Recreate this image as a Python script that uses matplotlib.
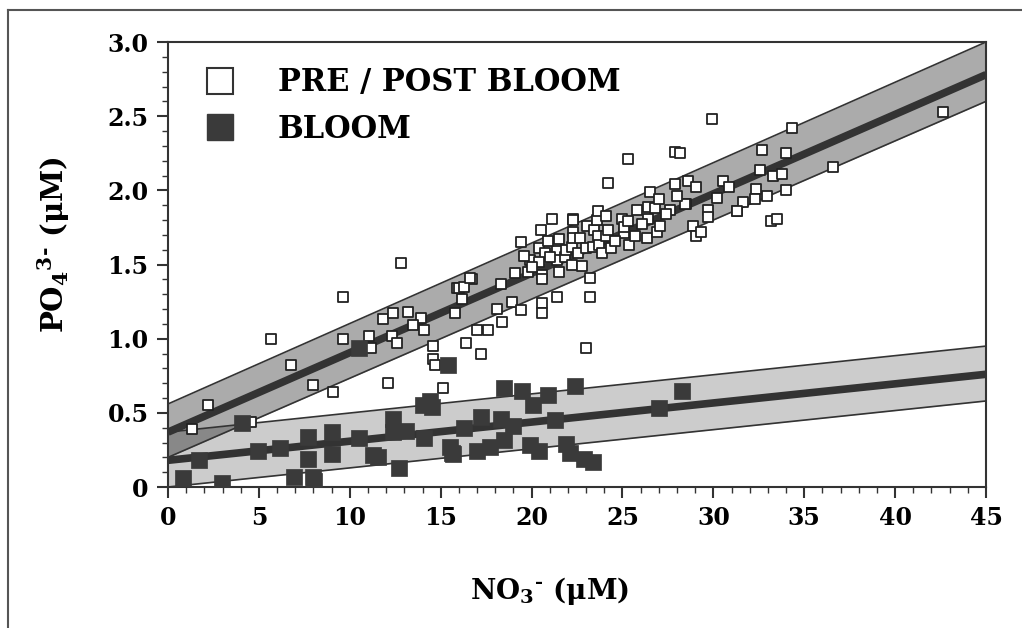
import matplotlib
matplotlib.use("Agg")
import matplotlib.pyplot as plt
from matplotlib.lines import Line2D

# points PRE / POST BLOOM (carres vides)
pre_x = [12.8, 9.6, 5.65, 6.75, 8.0, 9.06, 2.2, 1.34, 4.55, 9.65, 11.07, 11.15, 11.85,
         12.4, 13.2, 13.9, 13.5, 14.1, 12.3, 12.6, 12.1, 14.6, 14.6, 14.7, 15.1, 15.8,
         15.9, 29.9, 25.3, 27.9, 24.2, 21.1, 22.3, 20.5, 19.4, 16.7, 16.0, 16.2, 18.3,
         19.1, 19.8, 18.1, 18.9, 19.4, 18.4, 17.0, 17.6, 16.4, 17.2, 20.6, 20.6, 21.4,
         23.2, 23.2, 23.0,
         19.91, 20.39, 20.76, 20.42, 20.55, 20.59, 21.38, 21.49, 21.42, 21.49, 21.84,
         21.89, 22.2, 22.22, 22.26, 22.26, 22.3, 22.57, 22.66, 22.99, 23.06, 23.39,
         23.43, 23.58, 23.63, 23.67, 23.69, 23.85, 24.07, 24.09, 24.22, 24.35, 24.95,
         25.08, 25.1, 25.32, 25.36, 25.78, 26.37, 26.42, 26.51, 26.42, 26.79, 26.88,
         27.01, 27.06, 27.61, 27.89, 28.48, 28.62, 29.04, 28.9, 29.04, 29.3, 29.69,
         29.72, 30.55, 30.87, 31.28,
         34.3, 42.65, 36.6, 32.66, 34.0, 32.56, 33.26, 33.76, 32.34, 34.0, 32.97, 32.29,
         31.65, 31.32, 33.15, 33.52, 28.16, 28.44,
         16.3, 16.6, 20.0, 20.9, 19.6, 21.0, 22.8, 24.6, 25.7, 26.1, 27.4, 28.0, 30.2]
pre_y = [1.51, 1.28, 1.00, 0.82, 0.69, 0.64, 0.55, 0.39, 0.44, 1.00, 1.02, 0.94, 1.13,
         1.17, 1.18, 1.14, 1.09, 1.06, 1.02, 0.97, 0.70, 0.95, 0.86, 0.82, 0.67, 1.17,
         1.34, 2.48, 2.21, 2.26, 2.05, 1.81, 1.81, 1.73, 1.65, 1.40, 1.34, 1.27, 1.37,
         1.44, 1.45, 1.20, 1.25, 1.19, 1.11, 1.06, 1.06, 0.97, 0.90, 1.24, 1.17, 1.28,
         1.28, 1.41, 0.94,
         1.53, 1.61, 1.58, 1.52, 1.43, 1.40, 1.59, 1.67, 1.53, 1.45, 1.55,
         1.60, 1.50, 1.62, 1.72, 1.68, 1.80, 1.58, 1.68, 1.61, 1.76, 1.62,
         1.73, 1.80, 1.86, 1.69, 1.63, 1.58, 1.83, 1.69, 1.73, 1.61, 1.81,
         1.71, 1.75, 1.79, 1.63, 1.87, 1.68, 1.81, 1.99, 1.89, 1.88, 1.72,
         1.94, 1.76, 1.87, 2.04, 1.91, 2.06, 2.02, 1.76, 1.69, 1.72, 1.87,
         1.82, 2.06, 2.02, 1.86,
         2.42, 2.53, 2.16, 2.27, 2.25, 2.14, 2.10, 2.11, 2.01, 2.00, 1.96, 1.94,
         1.92, 1.86, 1.79, 1.81, 2.25, 1.91,
         1.35, 1.41, 1.48, 1.66, 1.56, 1.55, 1.49, 1.66, 1.69, 1.77, 1.84, 1.96, 1.95]

# points BLOOM (carres pleins)
bloom_x = [0.81, 2.95, 1.72, 4.05, 4.97, 6.16, 6.93, 7.96, 8.05, 7.72, 7.68, 9.0,
           10.5, 10.5, 11.3, 11.57, 12.4, 12.4, 12.7, 14.1, 14.0, 14.5, 14.4, 15.4,
           15.5, 15.6, 18.5, 19.5, 20.9, 22.4, 28.3, 20.1, 17.2, 16.3, 18.3, 19.0,
           18.5, 21.3, 27.0, 15.7, 17.0, 17.7, 19.9, 20.4, 21.9, 22.1, 22.9, 23.4,
           13.1, 9.0]
bloom_y = [0.06, 0.03, 0.18, 0.43, 0.24, 0.26, 0.065, 0.065, 0.04, 0.335, 0.19, 0.22,
           0.33, 0.935, 0.215, 0.20, 0.46, 0.37, 0.13, 0.33, 0.55, 0.54, 0.58, 0.82,
           0.27, 0.23, 0.67, 0.65, 0.62, 0.68, 0.65, 0.55, 0.47, 0.40, 0.46, 0.41,
           0.32, 0.45, 0.53, 0.22, 0.245, 0.27, 0.28, 0.245, 0.29, 0.23, 0.19, 0.17,
           0.38, 0.37]

# droites de regression et bandes (valeurs aux extremites x=0 et x=45)
fit_x = [0, 45]
pre_fit = [0.37, 2.78]
pre_up = [0.56, 3.00]
pre_low = [0.20, 2.60]
bloom_fit = [0.18, 0.76]
bloom_up = [0.37, 0.95]
bloom_low = [0.00, 0.58]

plt.rcParams["font.family"] = "DejaVu Serif"
plt.rcParams["font.weight"] = "bold"
plt.rcParams["mathtext.fontset"] = "dejavuserif"
plt.rcParams["mathtext.default"] = "bf"

fig = plt.figure(figsize=(10.22, 6.28), dpi=100)
ax = fig.add_axes([0.1644, 0.2245, 0.8004, 0.7086])

# bandes grisees
ax.fill_between(fit_x, bloom_low, bloom_up, color="black", alpha=0.2, lw=0, zorder=1)
ax.fill_between(fit_x, pre_low, pre_up, color="black", alpha=0.33, lw=0, zorder=1)
for edge in (bloom_up, bloom_low, pre_up, pre_low):
    ax.plot(fit_x, edge, color="#333333", lw=1.2, zorder=2)

ax.plot(fit_x, pre_fit, color="#333333", lw=5.5, solid_capstyle="butt", zorder=3)
ax.plot(fit_x, bloom_fit, color="#333333", lw=5.5, solid_capstyle="butt", zorder=3)

ax.scatter(pre_x, pre_y, marker="s", s=55, facecolor="white", edgecolor="#222222",
           linewidths=1.3, zorder=4)
ax.scatter(bloom_x, bloom_y, marker="s", s=135, facecolor="#3a3a3a", edgecolor="#3a3a3a",
           linewidths=0.5, zorder=5)

ax.set_xlim(0, 45)
ax.set_ylim(0, 3.0)
ax.set_xticks(range(0, 46, 5))
ax.set_xticks(range(0, 46), minor=True)
yt = [0, 0.5, 1.0, 1.5, 2.0, 2.5, 3.0]
ax.set_yticks(yt)
ax.set_yticklabels(["0", "0.5", "1.0", "1.5", "2.0", "2.5", "3.0"])
ax.set_yticks([i / 10 for i in range(31)], minor=True)
ax.tick_params(which="major", length=8, width=1.5, labelsize=17, pad=6, color="#333333")
ax.tick_params(which="minor", length=4, width=1.0, color="#333333")
for s in ax.spines.values():
    s.set_linewidth(1.5)
    s.set_color("#333333")

ax.set_xlabel(r"NO$_\mathbf{3}$$^{\mathbf{\text{-}}}$ ($\mathbf{\mu}$M)", fontsize=20,
              fontweight="bold")
ax.set_ylabel(r"PO$_\mathbf{4}$$^{\mathbf{3\text{-}}}$ ($\mathbf{\mu}$M)", fontsize=21,
              fontweight="bold")
ax.xaxis.set_label_coords(0.467, -0.197)
ax.yaxis.set_label_coords(-0.117, 0.545)

# legende
h_pre = Line2D([], [], marker="s", ls="", markersize=19, markerfacecolor="white",
               markeredgecolor="#333333", markeredgewidth=1.5)
h_bloom = Line2D([], [], marker="s", ls="", markersize=19, markerfacecolor="#3a3a3a",
                 markeredgecolor="#3a3a3a")
leg = ax.legend([h_pre, h_bloom], ["PRE / POST BLOOM", "BLOOM"], loc="upper left",
                frameon=False, fontsize=22, handletextpad=1.1, labelspacing=0.5,
                bbox_to_anchor=(0.0, 1.005), handlelength=1.6)

# cadre exterieur (haut et gauche)
fig.add_artist(Line2D([0.008, 1.0], [0.984, 0.984], color="#555555", lw=1.5))
fig.add_artist(Line2D([0.008, 0.008], [0.0, 0.984], color="#555555", lw=1.5))

fig.savefig("out.png", dpi=100)
